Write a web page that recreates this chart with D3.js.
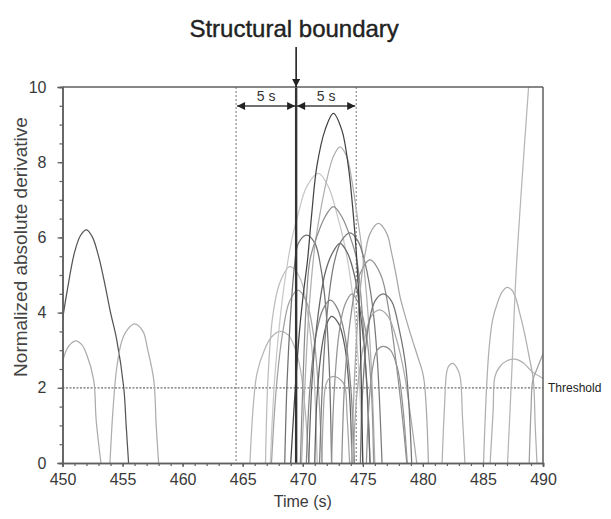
<!DOCTYPE html>
<html>
<head>
<meta charset="utf-8">
<script src="https://cdn.jsdelivr.net/npm/d3@7"></script>
<style>
  html, body { margin: 0; padding: 0; background: #fff; }
  svg { display: block; }
  text { font-family: "Liberation Sans", Arial, sans-serif; }
</style>
</head>
<body>
<svg id="chart" width="611" height="519"></svg>
<script>
// ---------- DATA ----------
const xTicks = [450, 455, 460, 465, 470, 475, 480, 485, 490];
const yTicks = [0, 2, 4, 6, 8, 10];
const boundaryTime = 469.45;
const windowLeft = 464.45;
const windowRight = 474.45;
const threshold = 2;
const titleText = "Structural boundary";
const xLabel = "Time (s)";
const yLabel = "Normalized absolute derivative";
const windowLabel = "5 s";
const thresholdLabel = "Threshold";

// each curve: [time, value] pairs
const curveA = [[449.8,3.2],[450.0,3.8],[450.4,4.6],[451.0,5.6],[451.5,6.05],[452.0,6.2],[452.5,6.0],[453.0,5.5],[453.5,4.8],[454.0,4.0],[454.5,3.3],[455.1,2.0],[455.3,1.0],[455.5,0]];
const curveL2 = [[450.0,2.7],[450.5,3.1],[451.1,3.25],[451.6,3.15],[452.0,2.9],[452.6,2.2],[452.8,1.15],[453.2,0]];
const curveL3 = [[453.95,0],[454.2,1.4],[454.5,2.5],[454.9,3.2],[455.3,3.5],[456.0,3.7],[456.7,3.5],[457.1,3.0],[457.6,2.2],[457.8,1.0],[458.0,0]];
const curveM1 = [[469.0,0],[469.3,1.6],[469.7,3.4],[470.05,4.5],[470.4,5.4],[470.75,6.64],[471.17,7.88],[471.86,8.86],[472.55,9.3],[473.25,8.86],[473.8,7.88],[474.2,6.64],[474.5,5.4],[474.72,4.0],[474.88,2.0],[475.0,0]];
const curveM2 = [[469.9,0],[470.2,2.2],[470.55,4.2],[471.0,5.75],[471.44,6.64],[472.0,7.53],[472.55,8.15],[473.1,8.41],[473.66,8.15],[474.08,7.53],[474.5,6.64],[474.9,5.75],[475.3,4.5],[475.7,2.6],[476.0,0]];
const curveM3 = [[467.3,0],[467.7,2.4],[468.4,4.6],[469.08,5.93],[469.63,6.64],[470.33,7.35],[471.3,7.7],[472.13,7.35],[472.83,6.64],[473.52,5.75],[474.1,4.6],[474.6,2.8],[475.0,0]];
const curveM4 = [[469.8,0],[470.0,2.0],[470.3,4.3],[470.6,5.4],[471.17,6.02],[471.86,6.55],[472.55,6.82],[473.25,6.55],[473.94,6.02],[474.5,5.4],[474.9,4.2],[475.3,2.2],[475.6,0]];
const curveM5 = [[468.5,0],[468.7,2.2],[469.0,4.0],[469.3,5.2],[469.63,5.84],[470.33,6.06],[471.02,5.84],[471.5,5.2],[471.9,4.2],[472.2,2.6],[472.4,0]];
const curveM6 = [[474.05,0],[474.3,2.2],[474.6,3.9],[474.9,4.95],[475.2,5.58],[475.6,6.1],[476.3,6.37],[477.0,6.1],[477.4,5.58],[477.8,4.95],[478.1,4.42],[479.0,3.4],[479.6,2.8],[480.05,2.3],[480.46,0]];
const curveM7 = [[471.4,0],[471.7,2.5],[472.1,4.2],[472.6,5.3],[473.2,5.9],[473.94,6.12],[474.6,5.9],[475.2,5.3],[475.8,4.2],[476.2,2.8],[476.6,0]];
const curveM8 = [[470.5,0],[470.8,2.3],[471.3,4.0],[471.9,5.1],[472.5,5.6],[473.1,5.84],[473.7,5.6],[474.3,5.0],[474.8,4.0],[475.3,2.3],[475.6,0]];
const curveM9 = [[466.9,0],[467.1,2.2],[467.5,3.9],[468.1,4.8],[468.94,5.22],[469.8,4.9],[470.4,4.0],[470.9,2.5],[471.2,0]];
const curveM10 = [[473.25,0],[473.5,2.2],[474.0,3.9],[474.6,4.9],[475.6,5.4],[476.5,5.0],[477.2,4.0],[477.8,2.6],[478.3,1.2],[478.66,0]];
const curveM11 = [[474.8,0],[475.0,2.0],[475.4,3.5],[476.0,4.3],[476.7,4.5],[477.4,4.3],[478.0,3.6],[478.6,2.5],[479.07,0]];
const curveM12 = [[470.3,0],[470.6,2.0],[471.1,3.4],[471.7,4.1],[472.3,4.33],[472.9,4.1],[473.5,3.4],[474.0,2.0],[474.3,0]];
const curveM13 = [[474.2,0],[474.5,1.8],[475.1,3.2],[475.7,3.9],[476.4,4.07],[477.1,3.9],[477.8,3.3],[478.5,2.3],[479.0,1.2],[479.49,0]];
const curveM14 = [[471.0,0],[471.2,1.8],[471.6,3.1],[472.0,3.7],[472.4,3.9],[473.0,3.7],[473.5,3.1],[473.9,1.8],[474.1,0]];
const curveM15 = [[465.6,0],[465.9,1.6],[466.2,2.4],[466.8,3.0],[467.4,3.35],[468.1,3.5],[468.8,3.4],[469.3,3.1],[469.8,2.5],[470.2,1.4],[470.5,0]];
const curveM16 = [[475.3,0],[475.5,1.5],[475.8,2.5],[476.2,3.0],[476.7,3.1],[477.3,3.0],[477.9,2.5],[478.3,1.6],[478.7,0]];
const curveM17 = [[471.6,0],[471.7,1.2],[471.9,2.05],[472.2,2.25],[472.7,2.3],[473.2,2.2],[473.5,2.05],[473.7,1.2],[473.9,0]];
const curveM18 = [[467.4,0],[467.8,2.0],[468.3,3.4],[468.9,4.3],[469.6,4.6],[470.3,4.3],[470.9,3.4],[471.3,2.0],[471.6,0]];
const curveM19 = [[472.4,0],[472.6,1.8],[473.0,3.4],[473.5,4.2],[474.1,4.5],[474.7,4.2],[475.3,3.4],[475.7,2.0],[475.9,0]];
const curveR1 = [[481.6,0],[481.8,1.5],[482.0,2.45],[482.2,2.6],[482.5,2.65],[482.8,2.55],[483.1,2.3],[483.3,1.2],[483.5,0]];
const curveR2 = [[485.05,0],[485.3,2.0],[485.5,3.0],[485.8,3.8],[486.2,4.25],[486.6,4.55],[487.0,4.67],[487.4,4.6],[487.7,4.42],[488.05,4.0],[488.4,3.54],[488.9,2.74],[489.2,2.2],[489.35,1.0],[489.5,0]];
const curveR3 = [[485.6,0],[485.85,1.4],[486.0,2.3],[486.4,2.56],[487.0,2.72],[487.7,2.76],[488.4,2.65],[489.1,2.43],[490.0,2.25],[490.3,2.2]];
const curveR4 = [[488.85,0],[489.0,1.4],[489.15,2.2],[489.5,2.5],[490.0,2.9],[490.3,3.1]];
const curveR5 = [[487.05,0],[487.4,2.4],[487.75,5.0],[488.25,7.5],[488.8,10.0],[489.0,10.9]];

const curves = [curveA, curveL2, curveL3, curveM15, curveM9, curveM3, curveM18, curveM2, curveM5, curveM12,
  curveM14, curveM4, curveM8, curveM7, curveM17, curveM19, curveM10, curveM6, curveM13, curveM11, curveM16,
  curveM1, curveR1, curveR2, curveR3, curveR4, curveR5];

// ---------- STYLE ----------
const shades = ["#555555", "#ababab", "#adadad", "#b6b6b6", "#bcbcbc", "#c8c8c8", "#a2a2a2", "#b0b0b0", "#707070", "#858585",
  "#5e5e5e", "#8c8c8c", "#666666", "#7a7a7a", "#a6a6a6", "#959595", "#909090", "#a8a8a8", "#aaaaaa", "#747474", "#929292",
  "#444444", "#b2b2b2", "#afafaf", "#afafaf", "#a0a0a0", "#b6b6b6"];

const M = { left: 62.5, right: 543, top: 87, bottom: 463 };
const svg = d3.select("#chart");
const x = d3.scaleLinear().domain([450, 490]).range([M.left, M.right]);
const y = d3.scaleLinear().domain([0, 10]).range([M.bottom, M.top]);
const axisColor = "#5f5f5f";

const defs = svg.append("defs");
defs.append("clipPath").attr("id", "plotclip")
  .append("rect").attr("x", M.left).attr("y", M.top)
  .attr("width", M.right - M.left).attr("height", M.bottom - M.top);
defs.append("marker").attr("id", "ah").attr("viewBox", "0 0 10 10").attr("refX", 10).attr("refY", 5)
  .attr("markerWidth", 10).attr("markerHeight", 8).attr("markerUnits", "userSpaceOnUse").attr("orient", "auto")
  .append("path").attr("d", "M0,0 L10,5 L0,10 Z").attr("fill", "#222");

// threshold line
svg.append("line")
  .attr("x1", x(450)).attr("x2", x(490)).attr("y1", y(threshold)).attr("y2", y(threshold))
  .attr("stroke", "#6e6e6e").attr("stroke-width", 1.2).attr("stroke-dasharray", "2,1.5");

// window dashed lines
[windowLeft, windowRight].forEach(t => {
  svg.append("line")
    .attr("x1", x(t)).attr("x2", x(t)).attr("y1", y(10)).attr("y2", y(0))
    .attr("stroke", "#777").attr("stroke-width", 1).attr("stroke-dasharray", "2,2");
});

// curves
const line = d3.line().x(d => x(d[0])).y(d => y(d[1])).curve(d3.curveCatmullRom.alpha(0.5));
const g = svg.append("g").attr("clip-path", "url(#plotclip)");
curves.forEach((c, i) => {
  g.append("path").attr("d", line(c)).attr("fill", "none")
    .attr("stroke", shades[i]).attr("stroke-width", 1.25);
});

// structural boundary line
svg.append("line")
  .attr("x1", x(boundaryTime)).attr("x2", x(boundaryTime)).attr("y1", y(10)).attr("y2", y(0))
  .attr("stroke", "#333").attr("stroke-width", 2.4);

// axes
const xAxis = d3.axisBottom(x).tickValues(xTicks).tickSize(4).tickPadding(7).tickFormat(d3.format("d"));
const xMinor = d3.axisBottom(x).tickValues(d3.range(450, 491, 1)).tickSize(3).tickFormat("");
const yAxis = d3.axisLeft(y).tickValues(yTicks).tickSize(5).tickPadding(11).tickFormat(d3.format("d"));
const yMinor = d3.axisLeft(y).tickValues(d3.range(0, 10.01, 0.5)).tickSize(3).tickFormat("");

function styleAxis(sel) {
  sel.selectAll("path").attr("stroke", axisColor).attr("stroke-width", 1.5);
  sel.selectAll("line").attr("stroke", axisColor).attr("stroke-width", 1.2);
  sel.selectAll("text").attr("fill", "#3a3a3a").attr("font-size", 16)
    .attr("font-family", "'Liberation Sans', Arial, sans-serif");
}
svg.append("g").attr("transform", `translate(0,${M.bottom})`).call(xMinor).call(styleAxis);
svg.append("g").attr("transform", `translate(0,${M.bottom})`).call(xAxis).call(styleAxis);
svg.append("g").attr("transform", `translate(${M.left},0)`).call(yMinor).call(styleAxis);
svg.append("g").attr("transform", `translate(${M.left},0)`).call(yAxis).call(styleAxis);

// frame top/right
svg.append("line").attr("x1", M.left).attr("x2", M.right).attr("y1", M.top).attr("y2", M.top)
  .attr("stroke", axisColor).attr("stroke-width", 1.5);
svg.append("line").attr("x1", M.right).attr("x2", M.right).attr("y1", M.top).attr("y2", M.bottom)
  .attr("stroke", axisColor).attr("stroke-width", 1.5);

// threshold label
svg.append("text").attr("x", M.right + 5).attr("y", y(threshold) + 4)
  .attr("font-size", 12).attr("fill", "#222").text(thresholdLabel);

// axis titles
svg.append("text").attr("x", (M.left + M.right) / 2).attr("y", 507)
  .attr("text-anchor", "middle").attr("font-size", 16).attr("fill", "#3a3a3a").text(xLabel);
svg.append("text").attr("transform", `translate(27,${(M.top + M.bottom) / 2 - 28}) rotate(-90)`)
  .attr("text-anchor", "middle").attr("font-size", 19).attr("fill", "#444").text(yLabel);

// title + arrow
svg.append("text").attr("x", x(boundaryTime) - 2).attr("y", 37)
  .attr("text-anchor", "middle").attr("font-size", 24).attr("fill", "#222")
  .attr("stroke", "#222").attr("stroke-width", 0.4).text(titleText);

svg.append("line").attr("x1", x(boundaryTime)).attr("x2", x(boundaryTime)).attr("y1", 47).attr("y2", M.top)
  .attr("stroke", "#222").attr("stroke-width", 1.6).attr("marker-end", "url(#ah)");

// 5 s arrows
const arrowY = 106;
[[windowLeft, boundaryTime], [boundaryTime, windowRight]].forEach(([a, b]) => {
  const mid = (a + b) / 2;
  svg.append("line").attr("x1", x(mid)).attr("x2", x(a) + 1).attr("y1", arrowY).attr("y2", arrowY)
    .attr("stroke", "#222").attr("stroke-width", 1.3).attr("marker-end", "url(#ah)");
  svg.append("line").attr("x1", x(mid)).attr("x2", x(b) - 1).attr("y1", arrowY).attr("y2", arrowY)
    .attr("stroke", "#222").attr("stroke-width", 1.3).attr("marker-end", "url(#ah)");
  svg.append("text").attr("x", x(mid)).attr("y", 101).attr("text-anchor", "middle")
    .attr("font-size", 14).attr("fill", "#333").text(windowLabel);
});
</script>
</body>
</html>
